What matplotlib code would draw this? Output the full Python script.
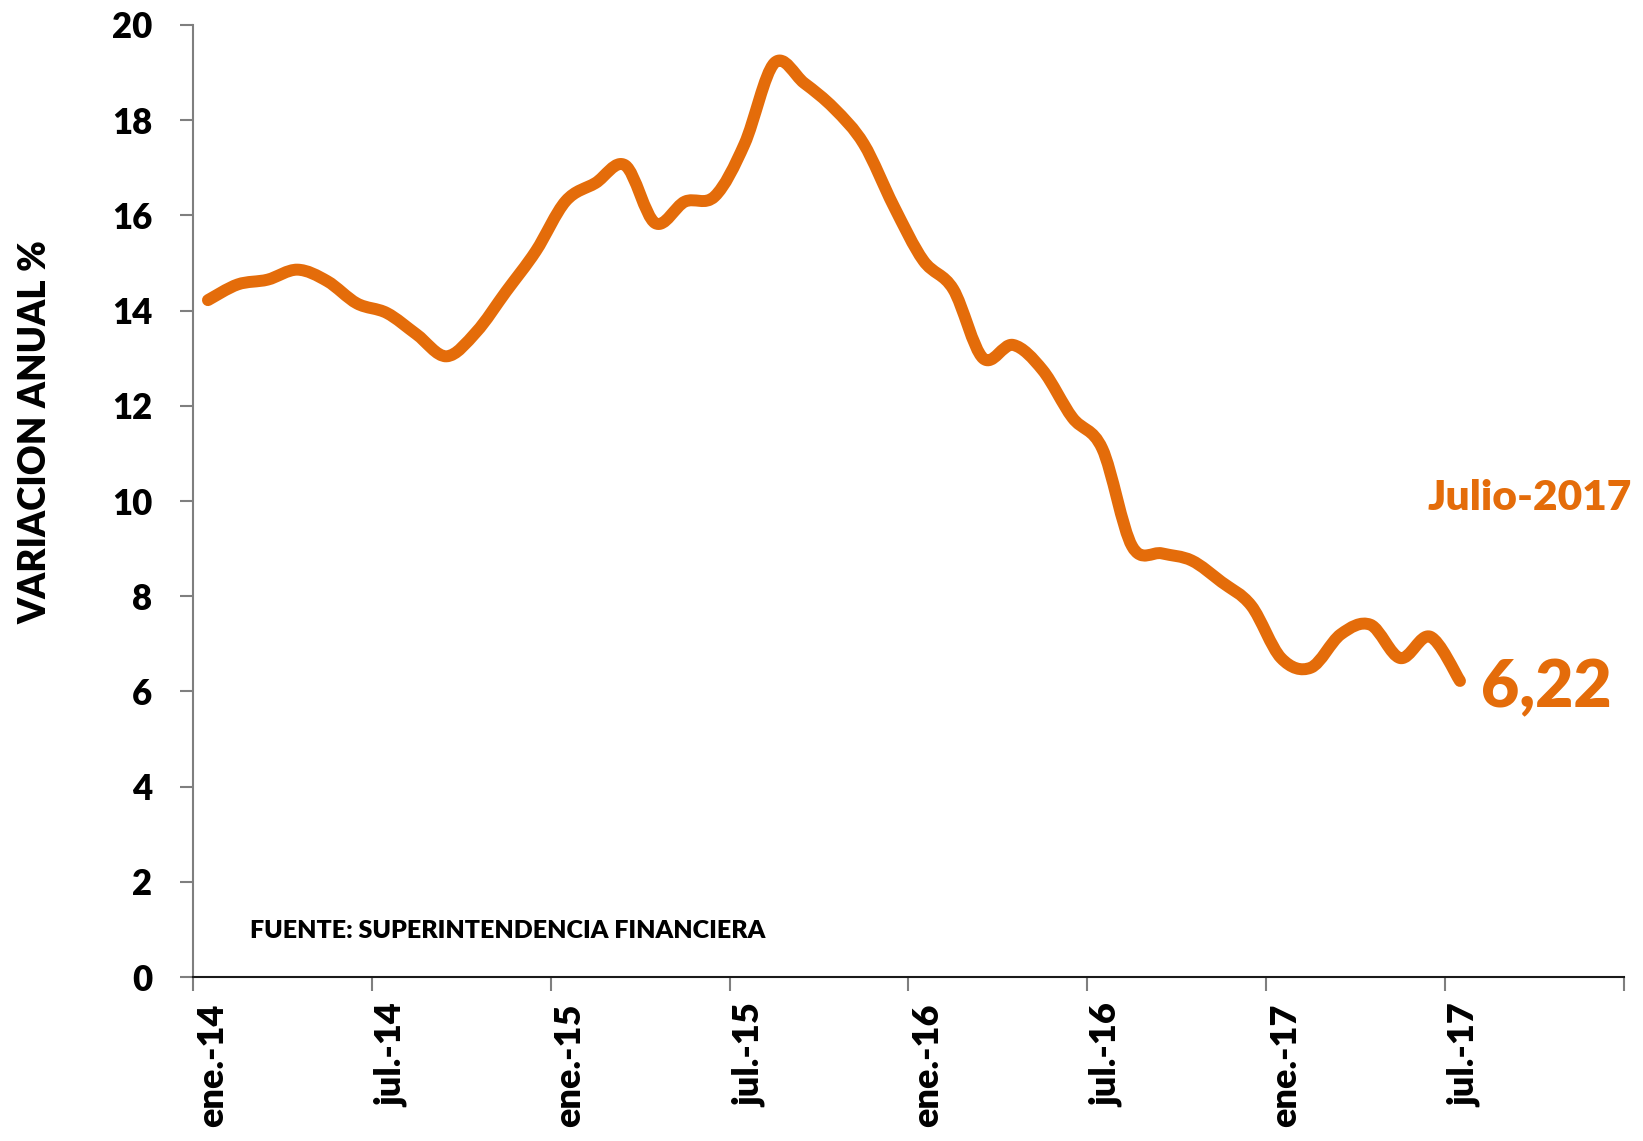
"""
Variacion anual % (ene-2014 a jul-2017), fuente Superintendencia Financiera.
Monthly values, drawn as a smoothed line like the Excel original.
"""

import matplotlib
matplotlib.use("Agg")
import matplotlib.pyplot as plt
import matplotlib.transforms as mtransforms
from matplotlib.path import Path
from matplotlib.patches import PathPatch

# ---------------------------------------------------------------------------
# Data
# ---------------------------------------------------------------------------
START_MONTH = 0.5  # jan-2014 point sits half a month after the ene.-14 tick
VALUES = [
    14.22, 14.55, 14.65, 14.86, 14.62, 14.15, 13.95, 13.50, 13.04, 13.55,
    14.40, 15.25, 16.30, 16.68, 17.05, 15.84, 16.29, 16.40, 17.50, 19.20,
    18.78, 18.25, 17.50, 16.20, 15.05, 14.45, 13.00, 13.28, 12.75, 11.75,
    11.10, 9.05, 8.90, 8.75, 8.30, 7.80, 6.70, 6.50, 7.20, 7.40,
    6.70, 7.15, 6.22,
]
TICK_MONTHS = [0, 6, 12, 18, 24, 30, 36, 42, 48]
TICK_LABELS = ["ene.-14", "jul.-14", "ene.-15", "jul.-15", "ene.-16",
               "jul.-16", "ene.-17", "jul.-17", ""]
Y_TICKS = list(range(0, 21, 2))

ORANGE = "#E46C0A"
FONT = ["Lato", "DejaVu Sans"]
WEIGHT = "heavy"

plt.rcParams["font.family"] = FONT
plt.rcParams["font.weight"] = WEIGHT


def smooth_path(xs, ys):
    """Catmull-Rom style bezier through the points (Excel 'smoothed line')."""
    pts = list(zip(xs, ys))
    verts = [pts[0]]
    codes = [Path.MOVETO]
    n = len(pts)
    for i in range(n - 1):
        p0 = pts[i - 1] if i > 0 else pts[i]
        p1 = pts[i]
        p2 = pts[i + 1]
        p3 = pts[i + 2] if i + 2 < n else pts[i + 1]
        c1 = (p1[0] + (p2[0] - p0[0]) / 6, p1[1] + (p2[1] - p0[1]) / 6)
        c2 = (p2[0] - (p3[0] - p1[0]) / 6, p2[1] - (p3[1] - p1[1]) / 6)
        verts += [c1, c2, p2]
        codes += [Path.CURVE4] * 3
    return Path(verts, codes)


months = [START_MONTH + i for i in range(len(VALUES))]

fig = plt.figure(figsize=(16.43, 11.41), dpi=100)
ax = fig.add_axes([0.1175, 0.1437, 0.8709, 0.8344])

patch = PathPatch(smooth_path(months, VALUES), fill=False, edgecolor=ORANGE,
                  lw=8.6, capstyle="round", joinstyle="round")
ax.add_patch(patch)

ax.set_xlim(0, 48)
ax.set_ylim(0, 20)

for side in ("top", "right"):
    ax.spines[side].set_visible(False)
ax.spines["left"].set_color("#7f7f7f")
ax.spines["left"].set_linewidth(1.5)
ax.spines["bottom"].set_color("#1a1a1a")
ax.spines["bottom"].set_linewidth(1.5)

ax.set_yticks(Y_TICKS)
ax.set_yticklabels([str(v) for v in Y_TICKS])
ax.set_xticks(TICK_MONTHS)
ax.set_xticklabels(TICK_LABELS, rotation=90, ha="left")

ax.tick_params(axis="y", length=9.5, width=1.5, color="#7f7f7f",
               pad=20, labelsize=25)
ax.tick_params(axis="x", length=10, width=1.5, color="#7f7f7f",
               pad=9, labelsize=26)

# rotated labels sit just right of their tick, as in the original
shift = mtransforms.ScaledTranslation(2 / 72, 0, fig.dpi_scale_trans)
for lbl in ax.get_xticklabels():
    lbl.set_transform(lbl.get_transform() + shift)

fig.text(0.0215, 0.6214, "VARIACION ANUAL %", rotation=90,
         ha="center", va="center", fontsize=26.5, fontweight=WEIGHT)

ax.text(1.91, 0.81, "FUENTE: SUPERINTENDENCIA FINANCIERA",
        fontsize=18, fontweight=WEIGHT, va="baseline", ha="left")
ax.text(41.4, 9.82, "Julio-2017", color=ORANGE, fontsize=30.5,
        fontweight=WEIGHT, va="baseline", ha="left", clip_on=False)
ax.text(43.2, 5.66, "6,22", color=ORANGE, fontsize=47.5,
        fontweight=WEIGHT, va="baseline", ha="left", clip_on=False)

fig.savefig("out.png", dpi=100)
